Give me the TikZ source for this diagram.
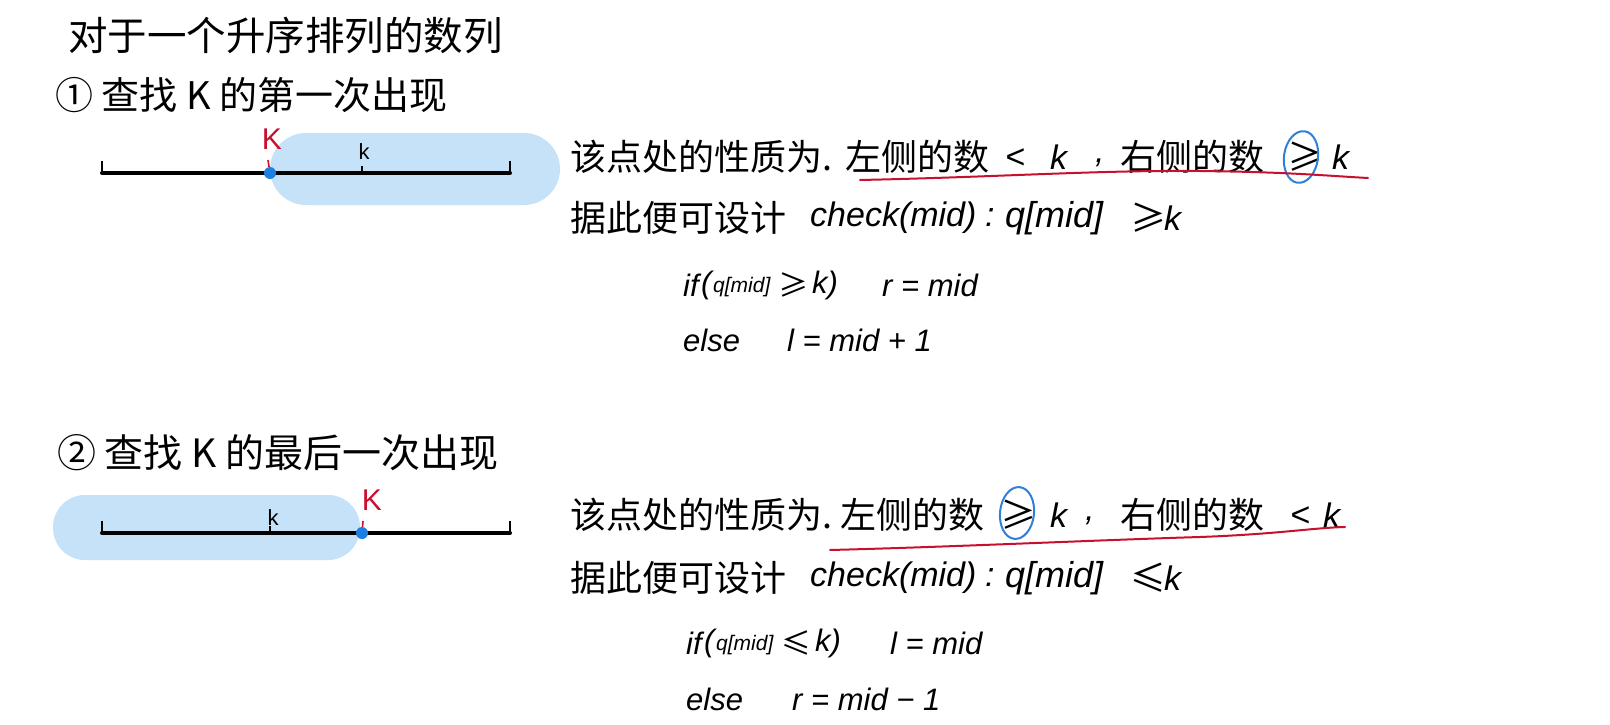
\documentclass[tikz,border=0pt]{standalone}
\usepackage{fontspec}
\setmainfont{Noto Sans CJK SC}
\newfontfamily\lat{Liberation Sans}
\usetikzlibrary{shapes.geometric}
\definecolor{pill}{HTML}{C6E2F9}
\definecolor{dotblue}{HTML}{1E7FE3}
\definecolor{redk}{HTML}{C8102E}
\definecolor{circ}{HTML}{2F80D8}
\begin{document}
\begin{tikzpicture}[x=1pt,y=-1pt,
  head/.style={anchor=west,inner sep=0pt,font=\fontsize{38}{42}\selectfont},
  txt/.style={anchor=west,inner sep=0pt,font=\fontsize{36}{40}\selectfont},
  ltx/.style={anchor=west,inner sep=0pt,font=\lat\itshape\fontsize{34}{38}\selectfont},
  code/.style={anchor=west,inner sep=0pt,font=\lat\itshape\fontsize{31}{35}\selectfont},
  codecjk/.style={anchor=west,inner sep=0pt,font=\fontsize{30}{34}\selectfont},
  codes/.style={anchor=west,inner sep=0pt,font=\lat\itshape\fontsize{21}{25}\selectfont},
  numline/.style={line width=4pt,line cap=round},
  tick/.style={line width=1.6pt},
  dotc/.style={circle,fill=dotblue,inner sep=0pt,minimum size=12pt},
  redlab/.style={inner sep=0pt,text=redk,font=\lat\fontsize{30}{34}\selectfont},
  klab/.style={inner sep=0pt,font=\lat\fontsize{22}{26}\selectfont},
  uline/.style={redk,line width=2pt,line cap=round},
  ring/.style={ellipse,draw=circ,line width=2pt,minimum width=34pt,minimum height=52pt,inner sep=0pt}]
\useasboundingbox (0,0) rectangle (1610,725);

% headings
\node[head,font=\fontsize{39.5}{44}\selectfont] (title) at (68,35) {对于一个升序排列的数列};
\node[head] (h1) at (55,95) {① 查找 K 的第一次出现};
\node[head,font=\fontsize{39}{43}\selectfont] (h2) at (57,453) {② 查找 K 的最后一次出现};

% ---------- section 1 diagram ----------
\fill[pill,rounded corners=36pt] (270,133) rectangle (560,205);
\coordinate (a1) at (102,173);
\coordinate (b1) at (510,173);
\coordinate (m1) at (362,173);
\draw[numline] (a1) -- (b1);
\draw[tick] (a1) -- ++(0,-12);
\draw[tick] (b1) -- ++(0,-12);
\draw[tick] (m1) -- ++(0,-7);
\node[dotc] (d1) at (270,173) {};
\draw[redk,tick] (d1) -- ++(-2,-13);
\node[redlab] (K1) at (272,139) {K};
\node[klab] (k1) at (364,152) {k};

% ---------- section 2 diagram ----------
\fill[pill,rounded corners=32pt] (53,495) rectangle (360,560);
\coordinate (a2) at (102,533);
\coordinate (b2) at (510,533);
\coordinate (m2) at (270,533);
\draw[numline] (a2) -- (b2);
\draw[tick] (a2) -- ++(0,-12);
\draw[tick] (b2) -- ++(0,-12);
\draw[tick] (m2) -- ++(0,-7);
\node[dotc] (d2) at (362,533) {};
\draw[redk,tick] (d2) -- ++(1,-12);
\node[redlab] (K2) at (372,500) {K};
\node[klab] (k2) at (273,518) {k};

% ---------- section 1 text ----------
\node[txt] (p1a) at (570,157) {该点处的性质为.};
\node[txt] (p1b) at (845,157) {左侧的数};
\node[ltx] (p1c) at (1005,159) {<};
\node[ltx] (p1d) at (1050,157) {k};
\node[ltx] (p1e) at (1095,163) {,};
\node[txt] (p1f) at (1120,157) {右侧的数};
\node[txt] (p1g) at (1287,157) {≥};
\node[ltx] (p1h) at (1332,157) {k};
\node[ring,rotate=-8] (r1) at (1301,157) {};
\draw[uline] (860,180) .. controls (1000,177) and (1100,170) .. (1200,171)
  .. controls (1290,172) and (1330,176) .. (1368,178);

\node[txt] (q1a) at (570,218) {据此便可设计};
\node[ltx] (q1b) at (810,218) {check(mid)};
\node[ltx] (q1c) at (985,218) {:};
\node[ltx,font=\lat\itshape\fontsize{36}{40}\selectfont] (q1d) at (1005,218) {q[mid]};
\node[txt] (q1e) at (1130,218) {≥};
\node[ltx] (q1f) at (1164,218) {k};

\node[code] (c1a) at (683,285) {if};
\node[code] (c1p) at (701,285) {(};
\node[codes] (c1b) at (713,287) {q[mid]};
\node[codecjk] (c1c) at (778,285) {≥};
\node[code] (c1k) at (812,285) {k)};
\node[code] (c1d) at (882,285) {r = mid};
\node[code] (e1a) at (683,340) {else};
\node[code] (e1b) at (787,340) {l = mid + 1};

% ---------- section 2 text ----------
\node[txt] (p2a) at (570,515) {该点处的性质为.};
\node[txt] (p2b) at (840,515) {左侧的数};
\node[txt] (p2c) at (1000,515) {≥};
\node[ltx] (p2d) at (1050,515) {k};
\node[ltx] (p2e) at (1085,521) {,};
\node[txt] (p2f) at (1120,515) {右侧的数};
\node[ltx] (p2g) at (1290,517) {<};
\node[ltx] (p2h) at (1323,515) {k};
\node[ring,rotate=-6] (r2) at (1017,513) {};
\draw[uline] (830,550) .. controls (950,547) and (1100,540) .. (1200,537)
  .. controls (1280,534) and (1310,528) .. (1345,527);

\node[txt] (q2a) at (570,578) {据此便可设计};
\node[ltx] (q2b) at (810,578) {check(mid)};
\node[ltx] (q2c) at (985,578) {:};
\node[ltx,font=\lat\itshape\fontsize{36}{40}\selectfont] (q2d) at (1005,578) {q[mid]};
\node[txt] (q2e) at (1130,578) {≤};
\node[ltx] (q2f) at (1164,578) {k};

\node[code] (c2a) at (686,643) {if};
\node[code] (c2p) at (704,643) {(};
\node[codes] (c2b) at (716,645) {q[mid]};
\node[codecjk] (c2c) at (781,643) {≤};
\node[code] (c2k) at (815,643) {k)};
\node[code] (c2d) at (890,643) {l = mid};
\node[code] (e2a) at (686,699) {else};
\node[code] (e2b) at (792,699) {r = mid − 1};
\end{tikzpicture}
\end{document}
